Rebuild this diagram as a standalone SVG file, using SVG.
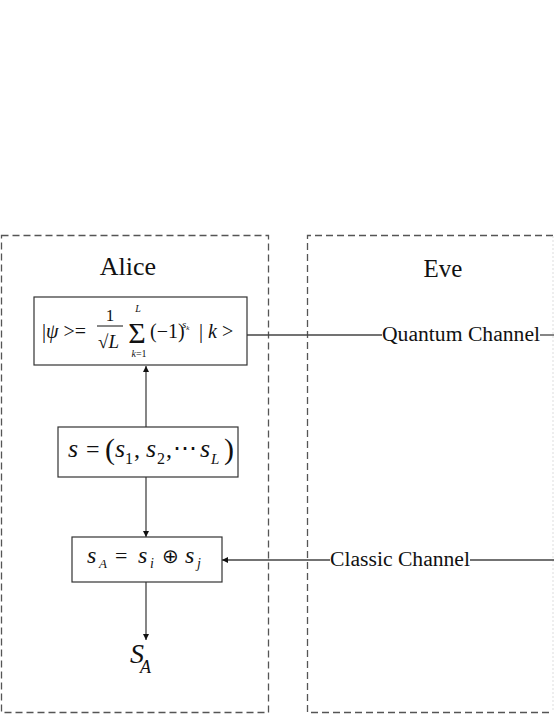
<svg xmlns="http://www.w3.org/2000/svg" width="554" height="717" viewBox="0 0 554 717">
<style>
.frame{fill:none;stroke:#555;stroke-width:1.3;stroke-dasharray:7 4}
.box{fill:#fff;stroke:#333;stroke-width:1.2}
.ln{stroke:#444;stroke-width:1.3;fill:none}
.t{font-family:"Liberation Serif","Times New Roman",serif;fill:#111}
.m{font-family:"Liberation Serif","Times New Roman",serif;font-style:italic;fill:#111}
.r{font-family:"Liberation Serif","Times New Roman",serif;fill:#111}
</style>
<defs>
<marker id="ah" viewBox="0 0 10 10" refX="10" refY="5" markerWidth="6" markerHeight="9" markerUnits="userSpaceOnUse" orient="auto">
<path d="M0,0 L10,5 L0,10 z" fill="#111"/>
</marker>
</defs>
<rect width="554" height="717" fill="#fff"/>

<g id="alice-frame">
<rect class="frame" x="1.5" y="235.5" width="267" height="477"/>
<text class="t" x="128" y="275" font-size="26" text-anchor="middle">Alice</text>
</g>
<g id="eve-frame">
<path class="frame" d="M553,235.5 H307.5 V712.5 H553"/>
<line x1="553" y1="236" x2="553" y2="712" stroke="#ddd" stroke-width="1" stroke-dasharray="2 2"/>
<text class="t" x="443" y="277" font-size="25" text-anchor="middle">Eve</text>
</g>

<g id="connectors">
<line class="ln" x1="247" y1="335" x2="382" y2="335"/>
<line class="ln" x1="540" y1="335" x2="554" y2="335"/>
<text class="t" x="382" y="341" font-size="20" textLength="158" lengthAdjust="spacingAndGlyphs">Quantum Channel</text>
<line class="ln" x1="554" y1="560" x2="470" y2="560"/>
<text class="t" x="330" y="566" font-size="20" textLength="140" lengthAdjust="spacingAndGlyphs">Classic Channel</text>
<line class="ln" x1="330" y1="560" x2="222" y2="560" marker-end="url(#ah)"/>
<line class="ln" x1="146" y1="427" x2="146" y2="366" marker-end="url(#ah)"/>
<line class="ln" x1="146" y1="477" x2="146" y2="537" marker-end="url(#ah)"/>
<line class="ln" x1="146" y1="582" x2="146" y2="640" marker-end="url(#ah)"/>
</g>

<g id="state">
<rect class="box" x="34" y="297" width="213" height="68"/>
<text class="r" x="42" y="338" font-size="20">|<tspan class="m">ψ</tspan> &gt;=</text>
<text class="r" x="110" y="321" font-size="17" text-anchor="middle">1</text>
<line x1="97" y1="326" x2="123" y2="326" stroke="#111" stroke-width="1"/>
<text class="r" x="98" y="348" font-size="19">√<tspan class="m">L</tspan></text>
<text class="r" x="137" y="343" font-size="30" text-anchor="middle">Σ</text>
<text class="m" x="138" y="312" font-size="10" text-anchor="middle">L</text>
<text class="r" x="139" y="357" font-size="10" text-anchor="middle"><tspan class="m">k</tspan>=1</text>
<text class="r" x="150" y="338" font-size="20">(−1)</text>
<text class="m" x="182" y="328" font-size="11">s<tspan font-size="7" dy="2">k</tspan></text>
<text class="r" x="199" y="338" font-size="20">| <tspan class="m">k</tspan> &gt;</text>
</g>

<g id="sequence">
<rect class="box" x="58" y="427" width="180" height="50"/>
<text class="m" x="68" y="457" font-size="26">s</text>
<text class="r" x="86" y="457" font-size="24">=</text>
<text class="r" x="105" y="459" font-size="30">(</text>
<text class="m" x="115" y="457" font-size="26">s</text>
<text class="r" x="125" y="464" font-size="16">1</text>
<text class="r" x="134" y="457" font-size="24">,</text>
<text class="m" x="146" y="457" font-size="26">s</text>
<text class="r" x="157" y="464" font-size="16">2</text>
<text class="r" x="166" y="457" font-size="24">,</text>
<text class="r" x="173" y="456" font-size="24">⋯</text>
<text class="m" x="200" y="457" font-size="26">s</text>
<text class="m" x="211" y="464" font-size="15">L</text>
<text class="r" x="224" y="459" font-size="30">)</text>
</g>

<g id="key">
<rect class="box" x="72" y="537" width="150" height="45"/>
<text class="m" x="87" y="563" font-size="24">s</text>
<text class="m" x="99" y="568" font-size="13">A</text>
<text class="r" x="115" y="563" font-size="22">=</text>
<text class="m" x="138" y="563" font-size="24">s</text>
<text class="m" x="150" y="568" font-size="14">i</text>
<text class="r" x="162" y="563" font-size="20">⊕</text>
<text class="m" x="185" y="563" font-size="24">s</text>
<text class="m" x="197" y="568" font-size="14">j</text>
</g>

<g id="output">
<text class="m" x="130" y="663" font-size="28">S</text>
<text class="m" x="140" y="673" font-size="18">A</text>
</g>
</svg>
